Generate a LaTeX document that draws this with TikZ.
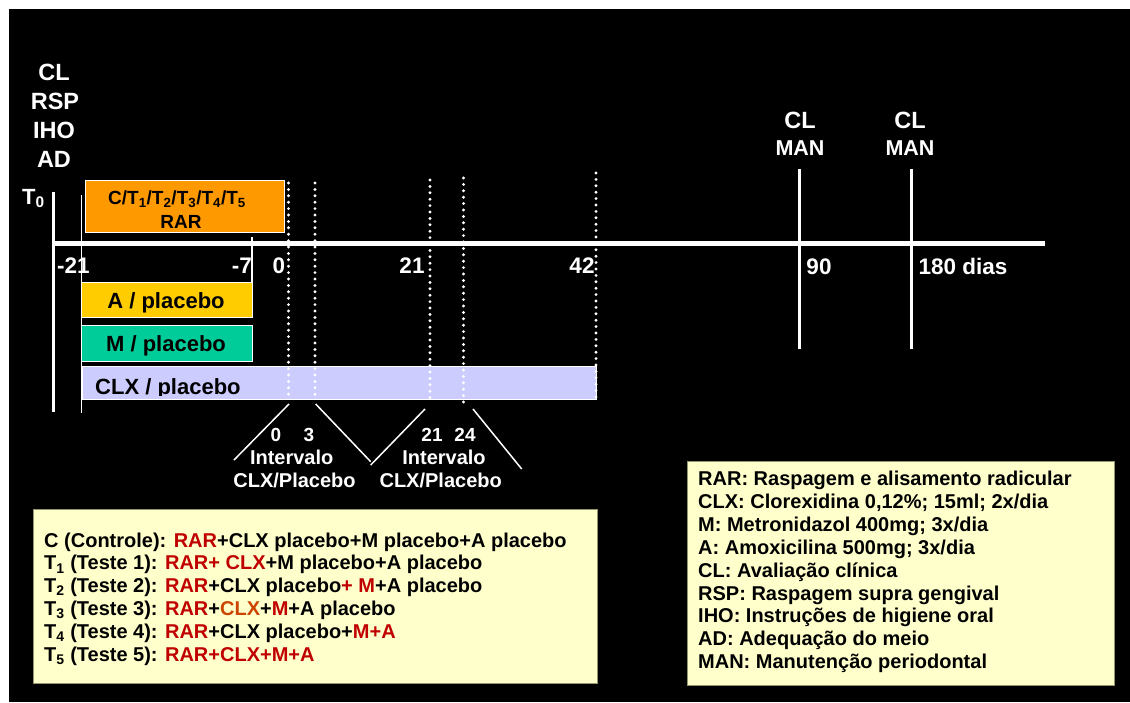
\documentclass[tikz,border=0pt]{standalone}
\usepackage{fontspec}
\setmainfont{Liberation Sans}
\usepackage{tikz}
\usetikzlibrary{positioning}
\usepackage{xcolor}
\definecolor{rarorange}{RGB}{255,153,0}
\definecolor{agold}{RGB}{255,204,0}
\definecolor{mteal}{RGB}{0,204,153}
\definecolor{clxlav}{RGB}{204,204,255}
\definecolor{notecream}{RGB}{255,255,204}
\definecolor{noteedge}{RGB}{150,150,110}
\definecolor{txtred}{RGB}{192,0,0}
\definecolor{txtbrown}{RGB}{204,68,0}
\newcommand{\fsz}[1]{\fontsize{#1}{#1}\selectfont\bfseries}
\newcommand{\redtxt}[1]{\textcolor{txtred}{#1}}
\newcommand{\brntxt}[1]{\textcolor{txtbrown}{#1}}
\tikzstyle{wlbl} = [text=white, inner sep=0pt, anchor=base]
\tikzstyle{blbl} = [text=black, inner sep=0pt, anchor=base]
\tikzstyle{note} = [text=black, inner sep=0pt, anchor=base west, font=\fsz{20}]
\tikzstyle{dotline} = [white, line width=3.2pt, line cap=round, dash pattern=on 0pt off 6.4pt]
\tikzstyle{bar} = [draw=white, line width=0.8pt]

\begin{document}
\begin{tikzpicture}[x=1pt, y=-1pt]
% Background
\fill[white] (0,0) rectangle (1130,702);
\fill[black] (9,9) rectangle (1130,702);
\useasboundingbox (0,0) rectangle (1130,702);

% Time axis
\coordinate (axL) at (54,243.5);
\coordinate (axR) at (1045,243.5);
\draw[white, line width=5pt] (axL) -- (axR);

% Vertical marks
\coordinate (t0top) at (53,192);
\coordinate (t0bot) at (53,412);
\draw[white, line width=3pt] (t0top) -- (t0bot);
\coordinate (m21top) at (81.5,195);
\coordinate (m21bot) at (81.5,413);
\draw[white, line width=1.5pt] (m21top) -- (m21bot);
\coordinate (m7top) at (252,237);
\coordinate (m7bot) at (252,297);
\draw[white, line width=1.5pt] (m7top) -- (m7bot);
\coordinate (d90top) at (799,169);
\coordinate (d90bot) at (799,349);
\draw[white, line width=3pt] (d90top) -- (d90bot);
\coordinate (d180top) at (911.5,169);
\coordinate (d180bot) at (911.5,349);
\draw[white, line width=3pt] (d180top) -- (d180bot);

% Bars
\node[bar, fill=rarorange, minimum width=199pt, minimum height=52pt] (rar) at (184.5,206) {};
\node[bar, fill=agold, minimum width=171pt, minimum height=35pt] (abar) at (166.5,299.5) {};
\node[bar, fill=mteal, minimum width=171pt, minimum height=36pt] (mbar) at (166.5,343) {};
\node[bar, fill=clxlav, minimum width=514pt, minimum height=33pt] (clxbar) at (339,382.5) {};

% Dotted lines
\coordinate (d0top) at (288.5,183);
\coordinate (d0bot) at (288.5,397);
\coordinate (d3top) at (315,183);
\coordinate (d3bot) at (315,397);
\coordinate (d21top) at (430,180);
\coordinate (d21bot) at (430,400);
\coordinate (d24top) at (463.5,178);
\coordinate (d24bot) at (463.5,406);
\coordinate (d42top) at (596,173);
\coordinate (d42bot) at (596,400);
\draw[dotline] (d0top) -- (d0bot);
\draw[dotline] (d3top) -- (d3bot);
\draw[dotline] (d21top) -- (d21bot);
\draw[dotline] (d24top) -- (d24bot);
\draw[dotline] (d42top) -- (d42bot);

% Bar labels
\node[blbl, font=\fsz{19}] (rarA) at (177,204) {C/T\textsubscript{1}/T\textsubscript{2}/T\textsubscript{3}/T\textsubscript{4}/T\textsubscript{5}};
\node[blbl, font=\fsz{19}] (rarB) at (181,228.3) {RAR};
\node[blbl, font=\fsz{22}] (atxt) at (166,308) {A / placebo};
\node[blbl, font=\fsz{22}] (mtxt) at (166,351.7) {M / placebo};
\begin{scope}
\clip (82,366) rectangle (596,395);
\node[blbl, font=\fsz{22}, anchor=base west] (clxtxt) at (95,394) {CLX / placebo};
\end{scope}

% Left header
\node[wlbl, font=\fsz{23.5}] (hCL) at (54,80.4) {CL};
\node[wlbl, font=\fsz{23.5}] (hRSP) at (55,109.4) {RSP};
\node[wlbl, font=\fsz{23.5}] (hIHO) at (54,138.4) {IHO};
\node[wlbl, font=\fsz{23.5}] (hAD) at (54,167.4) {AD};
\node[wlbl, font=\fsz{22}, anchor=base west] (hT0) at (22,204) {T\textsubscript{0}};

% Day labels
\node[wlbl, font=\fsz{22.5}] (dm21) at (73.5,273.5) {-21};
\node[wlbl, font=\fsz{22.5}] (dm7) at (242,273.5) {-7};
\node[wlbl, font=\fsz{22.5}] (dz) at (279,273.5) {0};
\node[wlbl, font=\fsz{22.5}] (d21) at (412,273.5) {21};
\node[wlbl, font=\fsz{22.5}] (d42) at (582,273.5) {42};
\node[wlbl, font=\fsz{22.5}] (d90) at (819,274.5) {90};
\node[wlbl, font=\fsz{22.5}, anchor=base west] (d180) at (918.5,274) {180 dias};

% Follow-up
\node[wlbl, font=\fsz{23.5}] (fCLa) at (800,128.3) {CL};
\node[wlbl, font=\fsz{21.5}] (fMANa) at (800,155) {MAN};
\node[wlbl, font=\fsz{23.5}] (fCLb) at (910,128.3) {CL};
\node[wlbl, font=\fsz{21.5}] (fMANb) at (910,155) {MAN};

% Washout intervals
\coordinate (w1a) at (289,404);
\coordinate (w1b) at (234,460);
\coordinate (w2a) at (315.7,404);
\coordinate (w2b) at (370.7,461.7);
\coordinate (w3a) at (425,409);
\coordinate (w3b) at (370.7,465);
\coordinate (w4a) at (473,409);
\coordinate (w4b) at (521.7,469);
\draw[white, line width=1.5pt] (w1a) -- (w1b);
\draw[white, line width=1.5pt] (w2a) -- (w2b);
\draw[white, line width=1.5pt] (w3a) -- (w3b);
\draw[white, line width=1.5pt] (w4a) -- (w4b);
\node[wlbl, font=\fsz{19}] (i0) at (276,441.7) {0};
\node[wlbl, font=\fsz{19}] (i3) at (309,441.7) {3};
\node[wlbl, font=\fsz{20}] (iA) at (291.7,464) {Intervalo};
\node[wlbl, font=\fsz{20}] (iB) at (294.5,487.3) {CLX/Placebo};
\node[wlbl, font=\fsz{19}] (i21) at (432,441.7) {21};
\node[wlbl, font=\fsz{19}] (i24) at (465,441.7) {24};
\node[wlbl, font=\fsz{20}] (iC) at (444,464) {Intervalo};
\node[wlbl, font=\fsz{20}] (iD) at (440.7,487.3) {CLX/Placebo};

% Groups box
\node[draw=noteedge, fill=notecream, line width=0.8pt, minimum width=564pt, minimum height=174pt] (groups) at (315,596) {};
\node[note] (g1) at (44,547) {C (Controle): \redtxt{RAR}+CLX placebo+M placebo+A placebo};
\node[note] (g2) at (44,569.9) {T\textsubscript{1} (Teste 1): \redtxt{RAR+ CLX}+M placebo+A placebo};
\node[note] (g3) at (44,592.8) {T\textsubscript{2} (Teste 2): \redtxt{RAR}+CLX placebo\redtxt{+ M}+A placebo};
\node[note] (g4) at (44,615.7) {T\textsubscript{3} (Teste 3): \redtxt{RAR}+\brntxt{CLX}+\redtxt{M}+A placebo};
\node[note] (g5) at (44,638.6) {T\textsubscript{4} (Teste 4): \redtxt{RAR}+CLX placebo+\redtxt{M+A}};
\node[note] (g6) at (44,661.5) {T\textsubscript{5} (Teste 5): \redtxt{RAR+CLX+M+A}};

% Abbreviations box
\node[draw=noteedge, fill=notecream, line width=0.8pt, minimum width=427pt, minimum height=224pt] (abbr) at (900.5,573) {};
\node[note] (a1) at (698,485.5) {RAR: Raspagem e alisamento radicular};
\node[note] (a2) at (698,508.4) {CLX: Clorexidina 0,12\%; 15ml; 2x/dia};
\node[note] (a3) at (698,531.3) {M: Metronidazol 400mg; 3x/dia};
\node[note] (a4) at (698,554.2) {A: Amoxicilina 500mg; 3x/dia};
\node[note] (a5) at (698,577.1) {CL: Avaliação clínica};
\node[note] (a6) at (698,600) {RSP: Raspagem supra gengival};
\node[note] (a7) at (698,622.9) {IHO: Instruções de higiene oral};
\node[note] (a8) at (698,645.8) {AD: Adequação do meio};
\node[note] (a9) at (698,668.7) {MAN: Manutenção periodontal};
\end{tikzpicture}
\end{document}
